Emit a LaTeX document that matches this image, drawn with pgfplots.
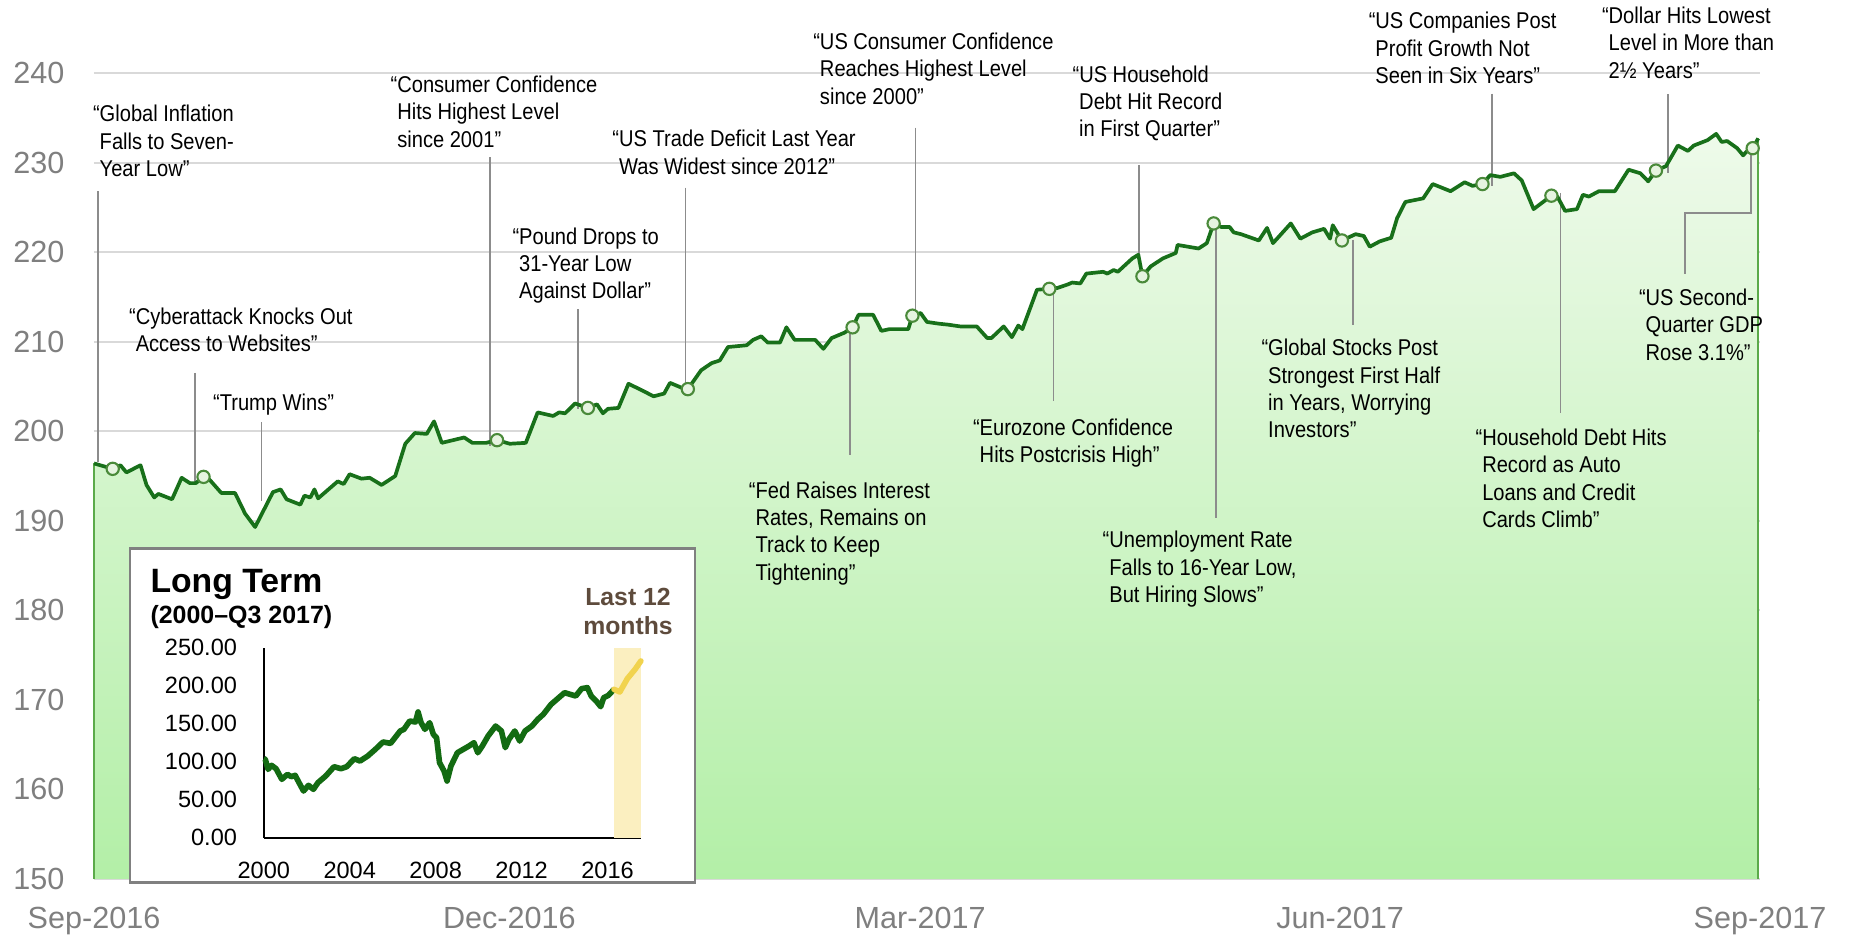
\documentclass[border=0pt]{standalone}
\usepackage{fontspec}
\setmainfont{Liberation Sans}
\newfontfamily\annfont[FakeStretch=0.88]{Liberation Sans}
\usepackage{pgfplots}
\usepackage{pgfplotstable}
\pgfplotsset{compat=1.18}
\definecolor{lineGreen}{HTML}{18701A}
\definecolor{fillTop}{HTML}{EEFAEA}
\definecolor{fillBot}{HTML}{B3EFA7}
\definecolor{edgeGreen}{HTML}{5BAA4A}
\definecolor{markFill}{HTML}{E6F4E0}
\definecolor{markEdge}{HTML}{4A8A3A}
\definecolor{connGray}{HTML}{8C8C8C}
\definecolor{gridGray}{HTML}{D9D9D9}
\definecolor{tickGray}{HTML}{7F7F7F}
\definecolor{boxGray}{HTML}{808080}
\definecolor{lastBrown}{HTML}{5E4B3C}
\definecolor{bandYellow}{HTML}{FBEFC0}
\definecolor{yellowLine}{HTML}{F1D34E}
\definecolor{insetGreen}{HTML}{136B12}

\pgfplotstableread{
day value
0 196.4
4.1 195.8
5.8 196.2
7.1 195.4
10.2 196.2
11.5 194.0
13.2 192.6
14.1 193.0
17.1 192.4
19.2 194.8
21.0 194.2
22.3 194.2
24.0 194.9
25.3 194.6
27.9 193.1
30.9 193.1
33.1 190.8
35.3 189.3
39.2 193.2
40.9 193.5
42.2 192.4
45.2 191.8
46.1 192.8
47.4 192.6
48.3 193.5
49.1 192.5
53.4 194.4
54.7 194.1
56.0 195.2
58.6 194.7
60.4 194.8
63.0 194.0
66.0 195.0
68.2 198.6
70.3 199.8
72.9 199.7
74.5 201.1
76.2 198.7
81.1 199.3
82.9 198.7
85.9 198.7
88.3 199.0
91.1 198.6
94.6 198.7
97.2 202.1
100.6 201.7
101.9 202.1
103.2 202.0
105.4 203.1
108.2 202.6
110.2 203.0
111.5 202.0
112.6 202.5
114.9 202.6
117.1 205.3
119.9 204.6
122.6 203.9
124.9 204.2
126.2 205.4
129.0 204.8
130.1 204.7
133.0 206.8
135.3 207.6
137.1 207.9
138.9 209.4
143.0 209.6
144.4 210.2
146.2 210.6
147.6 209.9
150.3 209.9
151.7 211.6
153.5 210.2
158.0 210.2
159.8 209.2
161.6 210.4
164.4 211.0
166.2 211.6
167.5 213.0
170.7 213.0
172.5 211.2
174.3 211.4
178.4 211.4
179.3 212.9
181.1 213.2
182.5 212.2
185.2 212.0
187.1 211.9
189.8 211.7
193.4 211.7
195.7 210.4
196.6 210.4
199.3 211.7
201.1 210.5
202.5 211.8
203.4 211.4
206.6 215.8
209.3 215.9
211.1 216.0
213.4 216.4
214.3 216.6
216.1 216.5
217.4 217.6
221.1 217.8
222.0 217.6
223.4 218.0
224.3 217.8
227.5 219.3
228.8 219.7
229.7 217.3
231.5 218.4
234.2 219.3
237.0 219.9
237.4 220.8
239.7 220.6
242.0 220.4
243.8 221.0
245.3 223.2
247.0 222.8
248.8 222.8
249.7 222.2
251.3 222.0
255.2 221.3
257.0 222.7
258.3 221.0
262.2 223.2
264.3 221.5
266.9 222.2
269.5 222.6
270.8 221.5
271.4 223.0
273.4 221.3
276.4 222.0
278.2 221.8
279.5 220.6
281.7 221.2
284.2 221.6
285.5 223.8
287.3 225.6
291.2 226.0
293.3 227.6
297.2 226.8
300.3 227.8
302.0 227.4
304.2 227.6
305.9 228.6
308.1 228.4
311.1 228.8
312.8 228.0
315.4 224.8
319.3 226.3
320.6 226.2
322.3 224.6
324.9 224.8
326.2 226.4
327.5 226.2
329.7 226.8
333.2 226.8
336.2 229.2
338.8 228.8
340.5 227.9
342.2 229.1
344.4 229.6
347.0 231.9
349.2 231.3
350.5 231.9
353.5 232.5
355.4 233.2
356.6 232.3
357.8 232.4
360.0 231.6
361.3 230.8
362.2 231.3
363.4 231.6
364.6 232.7
}\maindata

\pgfplotstableread{
year value
2000.0 104.0
2000.07 103.1
2000.2 89.9
2000.36 95.2
2000.57 90.8
2000.84 76.8
2001.1 83.3
2001.28 80.3
2001.46 82.0
2001.64 72.4
2001.85 61.4
2002.08 68.9
2002.31 63.6
2002.52 72.4
2002.88 81.1
2003.27 93.4
2003.59 90.8
2003.86 93.4
2004.21 103.9
2004.48 100.9
2004.84 107.5
2005.19 116.2
2005.55 125.9
2005.9 124.1
2006.35 140.4
2006.52 142.5
2006.79 153.5
2007.06 152.2
2007.18 165.4
2007.32 151.3
2007.5 142.5
2007.72 151.3
2007.89 136.0
2008.04 131.6
2008.18 98.7
2008.39 87.7
2008.53 74.6
2008.71 94.3
2009.01 111.8
2009.28 116.2
2009.55 120.6
2009.78 125.0
2009.96 111.8
2010.17 120.6
2010.44 133.8
2010.79 146.9
2011.06 140.4
2011.24 118.4
2011.41 129.4
2011.68 140.4
2011.91 127.2
2012.16 140.4
2012.48 146.9
2012.75 155.7
2013.01 162.3
2013.37 175.4
2013.64 182.0
2014.0 190.8
2014.26 188.6
2014.52 186.4
2014.79 196.1
2015.06 197.4
2015.24 186.4
2015.47 179.8
2015.68 172.4
2015.82 184.2
2016.04 187.3
2016.3 195.2
}\longdata

\pgfplotstableread{
year value
2016.3 195.2
2016.57 191.7
2016.92 209.2
2017.28 221.5
2017.55 232.5
}\lastdata

\tikzset{ann/.style={anchor=west, inner sep=0pt, align=left, text=black,
  font=\annfont\fontsize{6.5}{7.8}\selectfont}}

\begin{document}
\begin{tikzpicture}
\path[use as bounding box] (0,0) rectangle (18.5,9.36);
\begin{axis}[
  at={(0.94cm,0.57cm)}, anchor=south west, scale only axis,
  width=16.66cm, height=8.06cm,
  xmin=0, xmax=365, ymin=150, ymax=240, clip=false,
  axis line style={draw=none}, major tick length=0pt,
  xtick={0,91,181,273,365},
  xticklabels={Sep-2016,Dec-2016,Mar-2017,Jun-2017,Sep-2017},
  ytick={150,160,170,180,190,200,210,220,230,240},
  yticklabels={150,160,170,180,190,200,210,220,230,240},
  ymajorgrids, grid style={gridGray, line width=0.55pt},
  tick label style={font=\fontsize{8.7}{10}\selectfont, text=tickGray},
  yticklabel style={xshift=-4.9pt},
  xticklabel style={yshift=-4.4pt},
]
\addplot[draw=none, top color=fillTop, bottom color=fillBot] table[x=day,y=value] {\maindata} \closedcycle;
\addplot[edgeGreen, line width=0.5pt] coordinates {(0,150) (0,196.4)};
\addplot[edgeGreen, line width=0.5pt] coordinates {(364.6,150) (364.6,232.7)};
% connectors
\addplot[connGray, line width=0.5pt] coordinates {(0.8,226.8) (0.8,196.6)};
\addplot[connGray, line width=0.5pt] coordinates {(22.1,206.5) (22.1,194.2)};
\addplot[connGray, line width=0.5pt] coordinates {(36.7,201.0) (36.7,192.2)};
\addplot[connGray, line width=0.5pt] coordinates {(86.8,230.6) (86.8,198.4)};
\addplot[connGray, line width=0.5pt] coordinates {(106.0,213.6) (106.0,202.5)};
\addplot[connGray, line width=0.5pt] coordinates {(129.6,227.2) (129.6,205.2)};
\addplot[connGray, line width=0.5pt] coordinates {(180.0,233.9) (180.0,213.0)};
\addplot[connGray, line width=0.5pt] coordinates {(229.0,229.7) (229.0,219.6)};
\addplot[connGray, line width=0.5pt] coordinates {(165.6,210.8) (165.6,197.3)};
\addplot[connGray, line width=0.5pt] coordinates {(210.2,215.4) (210.2,203.4)};
\addplot[connGray, line width=0.5pt] coordinates {(245.8,223.1) (245.8,190.3)};
\addplot[connGray, line width=0.5pt] coordinates {(275.8,221.4) (275.8,211.9)};
\addplot[connGray, line width=0.5pt] coordinates {(306.3,237.7) (306.3,227.4)};
\addplot[connGray, line width=0.5pt] coordinates {(321.3,226.6) (321.3,202.0)};
\addplot[connGray, line width=0.5pt] coordinates {(344.9,237.6) (344.9,228.8)};
\addplot[connGray, line width=0.5pt] coordinates {(348.5,217.6) (348.5,224.4) (363.0,224.4) (363.0,231.5)};
% main line
\addplot[lineGreen, line width=1.05pt, line join=round] table[x=day,y=value] {\maindata};
% markers
\addplot[only marks, mark=*, mark size=1.75pt, mark options={fill=markFill, draw=markEdge, line width=0.6pt}] coordinates {
(4.1,195.8) (24.0,194.9) (88.3,199.0) (108.2,202.6) (130.1,204.7) (166.2,211.6) (179.3,212.9) (209.3,215.9) (229.7,217.3) (245.3,223.2) (273.4,221.3) (304.2,227.6) (319.3,226.3) (342.2,229.1) (363.4,231.6)};
% annotations
\node[ann] at (axis cs:1.1,232.4) {\llap{“}Global Inflation\\Falls to Seven-\\Year Low”};
\node[ann] at (axis cs:9.0,211.35) {\llap{“}Cyberattack Knocks Out\\Access to Websites”};
\node[ann] at (axis cs:27.4,203.0) {\llap{“}Trump Wins”};
\node[ann] at (axis cs:66.3,235.7) {\llap{“}Consumer Confidence\\Hits Highest Level\\since 2001”};
\node[ann] at (axis cs:93.0,218.5) {\llap{“}Pound Drops to\\31-Year Low\\Against Dollar”};
\node[ann] at (axis cs:114.9,231.15) {\llap{“}US Trade Deficit Last Year\\Was Widest since 2012”};
\node[ann] at (axis cs:158.9,240.5) {\llap{“}US Consumer Confidence\\Reaches Highest Level\\since 2000”};
\node[ann] at (axis cs:215.7,236.6) {\llap{“}US Household\\Debt Hit Record\\in First Quarter”};
\node[ann] at (axis cs:144.8,188.6) {\llap{“}Fed Raises Interest\\Rates, Remains on\\Track to Keep\\Tightening”};
\node[ann] at (axis cs:193.9,198.65) {\llap{“}Eurozone Confidence\\Hits Postcrisis High”};
\node[ann] at (axis cs:222.3,184.6) {\llap{“}Unemployment Rate\\Falls to 16-Year Low,\\But Hiring Slows”};
\node[ann] at (axis cs:257.1,204.75) {\llap{“}Global Stocks Post\\Strongest First Half\\in Years, Worrying\\Investors”};
\node[ann] at (axis cs:280.6,242.8) {\llap{“}US Companies Post\\Profit Growth Not\\Seen in Six Years”};
\node[ann] at (axis cs:304.0,194.75) {\llap{“}Household Debt Hits\\Record as Auto\\Loans and Credit\\Cards Climb”};
\node[ann] at (axis cs:331.7,243.4) {\llap{“}Dollar Hits Lowest\\Level in More than\\2½ Years”};
\node[ann] at (axis cs:339.8,211.9) {\llap{“}US Second-\\Quarter GDP\\Rose 3.1\%”};
\end{axis}

% inset frame
\draw[boxGray, line width=0.7pt, fill=white] (1.30,0.534) rectangle (6.95,3.873);
\node[anchor=base west, inner sep=0pt, font=\bfseries\fontsize{9.6}{11}\selectfont] at (1.498,3.43) {Long Term};
\node[anchor=base west, inner sep=0pt, font=\bfseries\fontsize{7.1}{8.5}\selectfont] at (1.498,3.125) {(2000–Q3 2017)};
\node[anchor=base, inner sep=0pt, text=lastBrown, font=\bfseries\fontsize{7.05}{8.5}\selectfont] at (6.28,3.30) {Last 12};
\node[anchor=base, inner sep=0pt, text=lastBrown, font=\bfseries\fontsize{7.05}{8.5}\selectfont] at (6.28,3.01) {months};

\begin{axis}[
  at={(2.638cm,0.983cm)}, anchor=south west, scale only axis,
  width=3.775cm, height=1.90cm,
  xmin=2000, xmax=2017.57, ymin=0, ymax=250, clip=false,
  axis x line=bottom, axis y line=left,
  axis line style={-, line width=0.6pt, black},
  major tick length=0pt,
  xtick={2000,2004,2008,2012,2016},
  xticklabels={2000,2004,2008,2012,2016},
  ytick={0,50,100,150,200,250},
  yticklabels={0.00,50.00,100.00,150.00,200.00,250.00},
  tick label style={font=\fontsize{6.7}{8}\selectfont, text=black},
  yticklabel style={xshift=-4.1pt},
  xticklabel style={yshift=-3.4pt},
]
\addplot[draw=none, fill=bandYellow] coordinates {(2016.32,0) (2016.32,250) (2017.57,250) (2017.57,0)} -- cycle;
\addplot[insetGreen, line width=1.6pt, line join=round] table[x=year,y=value] {\longdata};
\addplot[yellowLine, line width=1.6pt, line join=round, line cap=round] table[x=year,y=value] {\lastdata};
\end{axis}
\end{tikzpicture}
\end{document}
